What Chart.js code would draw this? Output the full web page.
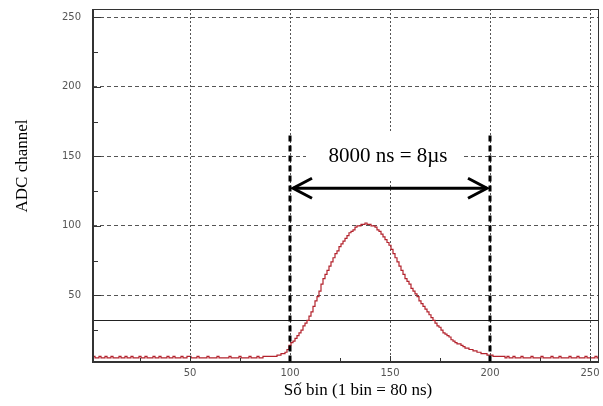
<!DOCTYPE html>
<html>
<head>
<meta charset="utf-8">
<script src="https://cdn.jsdelivr.net/npm/chart.js@4.4.0/dist/chart.umd.min.js"></script>
<style>
  html, body { margin: 0; padding: 0; background: #fff; }
  #wrap { width: 603px; height: 406px; }
</style>
</head>
<body>
<div id="wrap"><canvas id="pulseChart" width="603" height="406"></canvas></div>
<script>
// Số bin bắt đầu từ 1, mỗi giá trị là một bin (1 bin = 80 ns)
const firstBin = 1;
const adcValues = [
  // bin 1-50
  5, 6, 5, 5, 6, 5, 5, 6, 5, 5, 6, 5, 5, 5, 6, 5, 5, 6, 5, 5,
  6, 5, 5, 5, 6, 5, 5, 6, 5, 5, 5, 6, 5, 5, 6, 5, 5, 5, 6, 5,
  5, 6, 5, 5, 5, 6, 5, 5, 6, 6,
  // bin 51-90
  5, 5, 5, 6, 5, 5, 5, 5, 6, 5, 5, 5, 5, 6, 5, 5, 5, 5, 5, 6,
  5, 5, 5, 5, 6, 5, 5, 5, 5, 6, 5, 5, 5, 6, 5, 5, 6, 6, 6, 6,
  // bin 91-100
  6, 6, 6, 7, 7, 8, 8, 9, 11, 14,
  // bin 101-150
  16, 17, 19, 21, 23, 25, 28, 30, 32, 35, 38, 42, 46, 49, 53, 58, 62, 65, 68, 71,
  74, 77, 80, 82, 85, 87, 89, 91, 93, 95, 96, 97, 99, 100, 100, 101, 101, 102, 101, 101,
  100, 100, 99, 97, 96, 94, 92, 90, 88, 86,
  // bin 151-205
  83, 80, 77, 74, 71, 68, 65, 62, 60, 58, 55, 53, 51, 49, 46, 44, 42, 40, 38, 36,
  34, 32, 30, 28, 27, 25, 23, 22, 21, 20, 18, 17, 16, 15, 15, 14, 13, 12, 12, 11,
  11, 10, 10, 9, 9, 8, 8, 8, 7, 7, 7, 6, 6, 6, 6,
  // bin 206-255
  6, 6, 5, 6, 5, 5, 6, 5, 5, 5, 6, 5, 5, 5, 5, 6, 5, 5, 5, 5,
  6, 5, 5, 5, 5, 6, 5, 5, 5, 6, 5, 5, 5, 5, 6, 5, 5, 5, 6, 5,
  5, 5, 6, 5, 5, 5, 5, 6, 5, 5
];

const xTicks = [50, 100, 150, 200, 250];
const yTicks = [50, 100, 150, 200, 250];
const xMinorTicks = [25, 75, 125, 175, 225];
const yMinorTicks = [25, 75, 125, 175, 225];

const xRange = [1.5, 254.5];
const yRange = [2, 256];

// chú thích: cửa sổ 100-200 bin, mũi tên và ngưỡng
const windowBins = [100, 200];
const windowTop = 165;
const arrowLevel = 127;
const thresholdLevel = 32;
const windowLabel = '8000 ns = 8\u00b5s';
const xTitle = 'S\u1ed1 bin (1 bin = 80 ns)';
const yTitle = 'ADC channel';

const points = adcValues.map((v, i) => ({ x: firstBin + i, y: v }));

const overlayPlugin = {
  id: 'overlay',
  beforeDatasetsDraw(chart) {
    const { ctx, chartArea: a, scales: { y } } = chart;
    ctx.save();
    // nền trắng dưới nhãn
    ctx.fillStyle = '#fff';
    ctx.fillRect(306, 133, 156, 47);
    // ngưỡng
    ctx.strokeStyle = '#222';
    ctx.lineWidth = 1;
    const ty = Math.round(y.getPixelForValue(thresholdLevel)) + 0.5;
    ctx.beginPath();
    ctx.moveTo(a.left, ty);
    ctx.lineTo(a.right, ty);
    ctx.stroke();
    ctx.restore();
  },
  afterDatasetsDraw(chart) {
    const { ctx, chartArea: a, scales: { x, y } } = chart;
    ctx.save();

    // khung
    ctx.strokeStyle = '#333';
    ctx.lineWidth = 1;
    ctx.strokeRect(a.left + 0.5, a.top + 0.5, a.right - a.left - 1, a.bottom - a.top - 1);
    ctx.lineWidth = 2;
    ctx.beginPath();
    ctx.moveTo(a.left, a.top);
    ctx.lineTo(a.left, a.bottom);
    ctx.lineTo(a.right, a.bottom);
    ctx.stroke();

    // vạch chia
    ctx.lineWidth = 1;
    ctx.strokeStyle = '#333';
    yTicks.concat(yMinorTicks).forEach(v => {
      const py = Math.round(y.getPixelForValue(v)) + 0.5;
      const len = yTicks.includes(v) ? 8 : 5;
      ctx.beginPath();
      ctx.moveTo(a.left, py);
      ctx.lineTo(a.left + len, py);
      ctx.stroke();
    });
    xTicks.concat(xMinorTicks).forEach(v => {
      const px = Math.round(x.getPixelForValue(v)) + 0.5;
      const len = xTicks.includes(v) ? 6 : 4;
      ctx.beginPath();
      ctx.moveTo(px, a.bottom);
      ctx.lineTo(px, a.bottom - len);
      ctx.stroke();
    });

    // cửa sổ 100 - 200
    ctx.strokeStyle = '#000';
    ctx.lineWidth = 3;
    ctx.setLineDash([6, 4]);
    windowBins.forEach(b => {
      const px = x.getPixelForValue(b);
      ctx.beginPath();
      ctx.moveTo(px, y.getPixelForValue(windowTop));
      ctx.lineTo(px, a.bottom);
      ctx.stroke();
    });
    ctx.setLineDash([]);

    // mũi tên hai đầu
    const ay = y.getPixelForValue(arrowLevel);
    const x1 = x.getPixelForValue(windowBins[0]) + 3;
    const x2 = x.getPixelForValue(windowBins[1]) - 3;
    ctx.lineWidth = 3;
    ctx.beginPath();
    ctx.moveTo(x1, ay);
    ctx.lineTo(x2, ay);
    ctx.stroke();
    ctx.beginPath();
    ctx.moveTo(x1 + 19, ay - 10);
    ctx.lineTo(x1, ay);
    ctx.lineTo(x1 + 19, ay + 10);
    ctx.moveTo(x2 - 19, ay - 10);
    ctx.lineTo(x2, ay);
    ctx.lineTo(x2 - 19, ay + 10);
    ctx.stroke();

    // chữ
    ctx.fillStyle = '#000';
    ctx.textAlign = 'center';
    ctx.textBaseline = 'middle';
    ctx.font = '21px "Liberation Serif", "Times New Roman", serif';
    ctx.fillText(windowLabel, 388, 156);

    ctx.font = '17px "Liberation Serif", "Times New Roman", serif';
    ctx.fillText(xTitle, 358, 391);

    ctx.translate(23, 166);
    ctx.rotate(-Math.PI / 2);
    ctx.fillText(yTitle, 0, 0);
    ctx.restore();
  }
};

new Chart(document.getElementById('pulseChart'), {
  type: 'line',
  data: {
    datasets: [{
      data: points,
      borderColor: '#b3222c',
      borderWidth: 1.2,
      stepped: 'middle',
      pointRadius: 0,
      fill: false
    }]
  },
  options: {
    responsive: false,
    animation: false,
    devicePixelRatio: 1,
    layout: { padding: { top: 9, right: 4, left: 0, bottom: 0 } },
    plugins: {
      legend: { display: false },
      tooltip: { enabled: false }
    },
    scales: {
      x: {
        type: 'linear',
        min: xRange[0],
        max: xRange[1],
        afterBuildTicks: axis => { axis.ticks = xTicks.map(v => ({ value: v })); },
        afterFit: axis => {
          axis.height = 44;
          axis.paddingLeft = 0;
          axis.paddingRight = 0;
        },
        grid: { color: '#555', lineWidth: 1, drawTicks: false },
        border: { display: false, dash: [2, 2] },
        ticks: {
          padding: 5,
          color: '#555',
          font: { family: 'DejaVu Sans', size: 10 },
          maxRotation: 0
        }
      },
      y: {
        type: 'linear',
        min: yRange[0],
        max: yRange[1],
        afterBuildTicks: axis => { axis.ticks = yTicks.map(v => ({ value: v })); },
        afterFit: axis => {
          axis.width = 93;
          axis.paddingTop = 0;
          axis.paddingBottom = 0;
        },
        grid: { color: '#555', lineWidth: 1, drawTicks: false },
        border: { display: false, dash: [4, 3] },
        ticks: {
          padding: 12,
          color: '#555',
          font: { family: 'DejaVu Sans', size: 10 }
        }
      }
    }
  },
  plugins: [overlayPlugin]
});
</script>
</body>
</html>
